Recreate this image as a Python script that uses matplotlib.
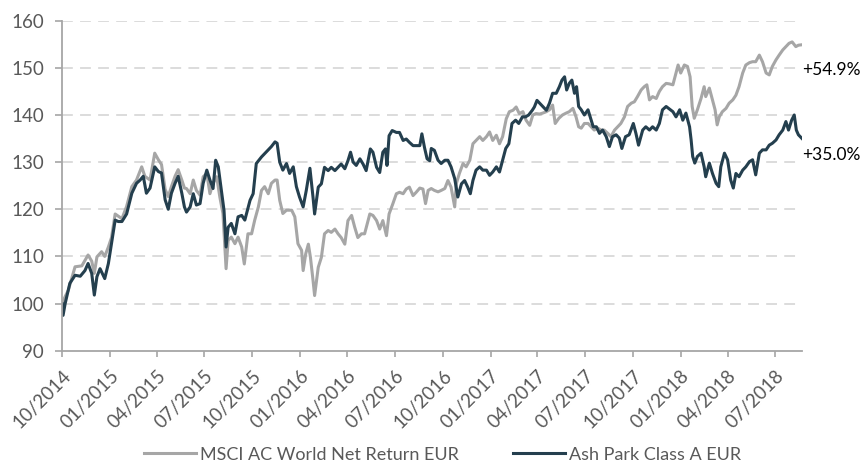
import matplotlib.pyplot as plt
import matplotlib.dates as mdates
import pandas as pd

# data: index levels (start = 100), days counted from 01/10/2014
start = pd.Timestamp('2014-10-01')

ash_days = [0, 2, 6, 15, 25, 35, 44, 50, 57, 62, 67, 73, 82, 89, 95, 102, 108, 115, 124, 134,
            143, 150, 156, 162, 169, 178, 185, 191, 198, 204, 210, 217, 223, 230, 235, 239, 246, 252, 258, 265,
            271, 278, 284, 290, 295, 300, 306, 311, 315, 319, 325, 332, 338, 345, 351, 361, 367, 373, 383, 389,
            396, 402, 409, 413, 418, 424, 431, 437, 444, 450, 456, 463, 469, 476, 482, 485, 492, 498, 504, 511,
            517, 524, 530, 536, 543, 549, 554, 559, 565, 572, 578, 584, 592, 597, 604, 610, 616, 621, 624, 628,
            634, 642, 648, 655, 661, 667, 674, 680, 687, 691, 696, 701, 706, 709, 715, 722, 728, 735, 741, 747,
            754, 760, 767, 773, 779, 784, 789, 795, 802, 808, 815, 821, 827, 834, 840, 846, 852, 858, 864, 871,
            877, 884, 890, 896, 903, 907, 912, 918, 924, 930, 936, 942, 949, 955, 960, 965, 969, 974, 979, 984,
            988, 992, 997, 1003, 1010, 1016, 1020, 1026, 1032, 1038, 1045, 1051, 1057, 1064, 1070, 1075, 1082, 1089, 1097, 1102,
            1107, 1115, 1121, 1128, 1134, 1141, 1147, 1153, 1160, 1166, 1173, 1179, 1186, 1192, 1198, 1205, 1208, 1211, 1215, 1220,
            1227, 1233, 1236, 1243, 1249, 1256, 1261, 1265, 1272, 1278, 1284, 1289, 1294, 1300, 1307, 1313, 1320, 1326, 1332, 1339,
            1345, 1352, 1358, 1364, 1371, 1377, 1384, 1390, 1395, 1401, 1406, 1410, 1414, 1421]
ash_values = [100, 97.5, 100, 104.3, 106, 105.8, 107, 108.5, 106.4, 101.8, 105.7, 107.4, 105.3, 108.5, 112.8, 117.7, 117.4, 117.4, 119, 123.4,
              125.5, 126.2, 127, 123.4, 124.5, 129, 128, 127.7, 122, 120, 123.4, 125.5, 127, 123.4, 120.5, 119.4, 120.5, 123.3, 120.9, 121.2,
              125.5, 128.3, 126.2, 124.4, 130.4, 129, 124, 119.8, 112, 116.2, 117, 114.8, 118.4, 118.7, 117.7, 121.9, 123.3, 129.7, 131.1, 131.8,
              132.6, 133.3, 134.3, 134, 130, 128.3, 129.7, 127.6, 129, 124.8, 122.6, 120.5, 124, 128.7, 122.5, 119, 124.7, 125.4, 128.9, 128.2,
              128.9, 128.2, 128.9, 129.6, 128.6, 130.3, 132.1, 130, 129.3, 130.7, 129.6, 128.2, 132.8, 132.1, 128.9, 127.8, 132.1, 132.8, 129.3, 135.6,
              136.7, 136.3, 136.3, 134.6, 134.9, 134.2, 133.5, 133.5, 133.5, 136, 133.1, 130.7, 130.3, 132.9, 132.5, 130.4, 129.7, 130.4, 130.4, 129,
              126.5, 122.6, 125.4, 126.1, 124.7, 123.3, 126.1, 128.3, 129, 128.3, 128.3, 127.2, 127.9, 129, 127.9, 130.4, 132.9, 133.9, 138.2, 138.9,
              138.2, 139.6, 139.6, 140, 141, 141.7, 143.1, 142.4, 141.7, 141, 142.5, 144.6, 144.6, 146, 147.4, 148.1, 145.3, 146.7, 147.4, 144.6,
              146, 141.8, 141.1, 140, 141.1, 138.9, 137.5, 137.5, 136.1, 136.8, 135.4, 133.3, 135.4, 135.8, 135.1, 132.9, 135.4, 135.8, 138.2, 136.1,
              133.6, 136.8, 137.5, 136.8, 137.5, 136.8, 138.2, 141.1, 141.8, 141.3, 140.7, 139.6, 141.1, 138.9, 140.4, 137.5, 134.7, 131.2, 129.8, 131.2,
              131.9, 129, 126.9, 129.8, 127.6, 125.5, 124.8, 129, 131.9, 130.5, 126.2, 124.5, 127.6, 126.9, 128.3, 129, 130.1, 130.5, 127.3, 131.9,
              132.6, 132.6, 133.6, 134, 134.7, 135.8, 136.8, 138.6, 136.8, 138.9, 140, 136.8, 135.8, 135.0]

msci_days = [0, 6, 12, 25, 38, 50, 57, 62, 67, 76, 82, 89, 95, 102, 115, 124, 134, 143, 153, 159,
             169, 178, 185, 191, 198, 204, 210, 217, 223, 230, 235, 239, 246, 252, 258, 265, 271, 278, 284, 290,
             297, 303, 309, 315, 319, 325, 332, 338, 345, 350, 357, 364, 370, 377, 383, 389, 396, 402, 409, 413,
             418, 424, 431, 441, 447, 453, 460, 463, 468, 473, 477, 482, 485, 492, 498, 504, 511, 517, 524, 530,
             536, 543, 549, 556, 562, 568, 575, 581, 591, 597, 604, 610, 616, 623, 628, 635, 642, 648, 655, 661,
             667, 674, 680, 687, 693, 698, 703, 709, 715, 722, 728, 735, 741, 747, 754, 757, 763, 770, 776, 783,
             789, 795, 802, 808, 815, 821, 827, 834, 840, 846, 853, 859, 866, 872, 878, 885, 891, 898, 904, 910,
             917, 923, 930, 936, 942, 947, 954, 961, 968, 974, 981, 987, 992, 997, 1003, 1010, 1016, 1022, 1029, 1035,
             1041, 1048, 1054, 1061, 1067, 1073, 1080, 1086, 1093, 1099, 1105, 1112, 1118, 1123, 1128, 1134, 1141, 1147, 1153, 1160,
             1166, 1173, 1179, 1183, 1188, 1195, 1201, 1206, 1210, 1214, 1220, 1227, 1233, 1236, 1243, 1249, 1254, 1258, 1262, 1268,
             1275, 1281, 1288, 1294, 1300, 1307, 1313, 1320, 1326, 1332, 1339, 1345, 1352, 1358, 1364, 1371, 1377, 1384, 1390, 1396,
             1402, 1409, 1414, 1421]
msci_values = [100, 101.5, 102.8, 107.8, 108, 110.3, 109, 106.4, 109.9, 111, 110, 112, 114, 119, 118, 120.6, 124.8, 126.2, 129, 127,
               126.2, 131.9, 130.5, 129.5, 124.2, 122.7, 124.8, 127, 128.4, 126.2, 124.5, 124.4, 123.3, 126.2, 124, 123, 126.9, 127.6, 123.3, 125.5,
               126.9, 122.6, 119.1, 107.4, 113.4, 114.1, 112.7, 114.1, 112, 108.4, 114.8, 114.8, 117.7, 120.5, 124, 124.8, 123.3, 125.5, 126.2, 126.2,
               121.9, 119.1, 119.8, 119.8, 118.4, 112.7, 111.3, 107, 110.6, 112.6, 109.8, 104.9, 101.7, 107.7, 109.8, 114.8, 115.5, 115.1, 115.8, 114.8,
               114, 112.6, 117.6, 118.7, 116.2, 114, 114.8, 114.8, 119, 118.7, 117.6, 115.8, 117.6, 114.4, 119, 121.1, 123.3, 123.6, 123.3, 124.3,
               124.7, 122.9, 123.6, 124.5, 124.3, 121.2, 124, 124.4, 124, 123.7, 124, 124.4, 126.1, 124.7, 120.5, 125.4, 127.6, 129.7, 129, 130.4,
               133.9, 134.6, 135.4, 134.6, 135.4, 136.4, 134.6, 135.7, 133.9, 135.4, 139.2, 140.7, 141, 141.7, 140.3, 140.7, 138.9, 137.8, 140, 140.3,
               140.2, 140.4, 140.7, 141.1, 142.1, 138.2, 139.3, 140, 140.4, 140.7, 141.4, 139.6, 137.5, 137.2, 138.2, 138.2, 137.5, 136.8, 137.2, 136.8,
               136.8, 136.1, 135.4, 136.8, 137.5, 138.2, 139.6, 141.8, 142.5, 142.8, 143.9, 145.3, 146, 146.4, 143.2, 143.9, 143.5, 145, 146, 146.7,
               146.6, 146.4, 148.9, 150.6, 148.9, 150.6, 150.3, 148.1, 141.8, 139.3, 141.1, 143.5, 146, 143.9, 145.7, 143.2, 141.1, 137.9, 139.6, 140.7,
               141.4, 142.5, 143.2, 144.2, 146, 148.9, 150.6, 151.1, 151.3, 151.3, 152.7, 151.3, 148.9, 148.5, 150.3, 151.7, 152.7, 153.8, 154.5, 155.2,
               155.5, 154.5, 154.8, 154.9]

series_labels = ['MSCI AC World Net Return EUR', 'Ash Park Class A EUR']
end_labels = ['+54.9%', '+35.0%']
end_label_levels = [149.6, 131.6]
tick_dates = pd.date_range('2014-10-01', '2018-07-01', freq='QS')

ash_dates = start + pd.to_timedelta(ash_days, unit='D')
msci_dates = start + pd.to_timedelta(msci_days, unit='D')

plt.rcParams['font.family'] = ['Lato', 'DejaVu Sans']
grey = '#a6a6a6'
dark = '#243f4e'
text_col = '#595959'

fig = plt.figure(figsize=(8.64, 4.66), dpi=100)
ax = fig.add_axes([0.0718, 0.2474, 0.8565, 0.7082])

ax.plot(msci_dates, msci_values, color=grey, lw=2.2, label=series_labels[0])
ax.plot(ash_dates, ash_values, color=dark, lw=2.2, label=series_labels[1])

ax.set_ylim(90, 160)
ax.set_yticks(range(90, 161, 10))
ax.set_xlim(start, ash_dates[-1])
ax.set_xticks(tick_dates)
ax.xaxis.set_major_formatter(mdates.DateFormatter('%m/%Y'))

for y in range(100, 161, 10):
    ax.axhline(y, color='#d9d9d9', lw=1.3, ls=(0, (6, 4)), zorder=0)

for s in ['top', 'right']:
    ax.spines[s].set_visible(False)
for s in ['left', 'bottom']:
    ax.spines[s].set_color('#a6a6a6')
    ax.spines[s].set_linewidth(1.3)

ax.tick_params(axis='both', colors='#a6a6a6', labelcolor=text_col, labelsize=13.5, length=5, width=1.2)
ax.tick_params(axis='y', pad=8)
ax.tick_params(axis='x', length=4, pad=8)
for lab in ax.get_xticklabels():
    lab.set_rotation(45)
    lab.set_ha('right')
    lab.set_va('top')
    lab.set_rotation_mode('anchor')

for lvl, txt in zip(end_label_levels, end_labels):
    ax.text(ash_dates[-1] + pd.Timedelta(days=1), lvl, txt, fontsize=12.5, color='black',
            va='center', ha='left', clip_on=False)

fig.legend(loc='center', bbox_to_anchor=(0.512, 0.024), ncol=2, frameon=False,
           fontsize=13, labelcolor=text_col, handlelength=2.9, columnspacing=3.0, handletextpad=0.2)

plt.savefig('out.png', dpi=100)
